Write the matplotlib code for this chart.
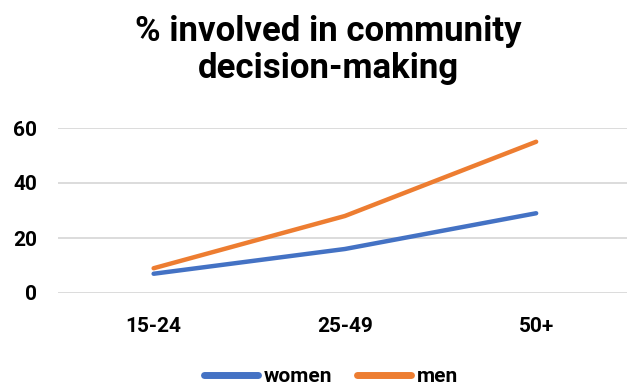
import matplotlib
matplotlib.use("Agg")
import matplotlib.pyplot as plt

categories = ["15-24", "25-49", "50+"]
women = [7, 16, 29]
men = [9, 28, 55]
yticks = [0, 20, 40, 60]

plt.rcParams['font.family'] = ['Roboto', 'DejaVu Sans']
W, H = 627, 390
fig = plt.figure(figsize=(W/100, H/100), dpi=100)
ax = fig.add_axes([58/W, 1-293/H, 1-58/W, (293-128)/H])

x = list(range(len(categories)))
ax.plot(x, women, color="#4472C4", lw=3.2, solid_capstyle="round", label="women", clip_on=False)
ax.plot(x, men, color="#ED7D31", lw=3.2, solid_capstyle="round", label="men", clip_on=False)

ax.set_xlim(-0.5, 2.475)
ax.set_ylim(0, 60)
ax.set_yticks(yticks)
ax.set_xticks(x)
ax.set_xticklabels(categories)
for s in ax.spines.values():
    s.set_visible(False)
ax.yaxis.grid(True, color="#D9D9D9", lw=1.3)
ax.set_axisbelow(True)
ax.tick_params(length=0, labelsize=15)
ax.tick_params(axis='x', pad=17)
ax.tick_params(axis='y', pad=15)
for lab in ax.get_xticklabels() + ax.get_yticklabels():
    lab.set_fontweight("bold")

fig.text(328/W, 1-50/H, "% involved in community\ndecision-making", ha="center", va="center",
         fontsize=25, fontweight="bold", linespacing=1.15)

leg = fig.legend(loc="center", bbox_to_anchor=(331/W, 1-377/H), ncol=2, frameon=False,
                 prop={"weight": "bold", "size": 15}, handlelength=2.6, handletextpad=0.25,
                 columnspacing=1.2)
for l in leg.get_lines():
    l.set_linewidth(5)
    l.set_solid_capstyle("round")

fig.savefig("out.png", dpi=100)
